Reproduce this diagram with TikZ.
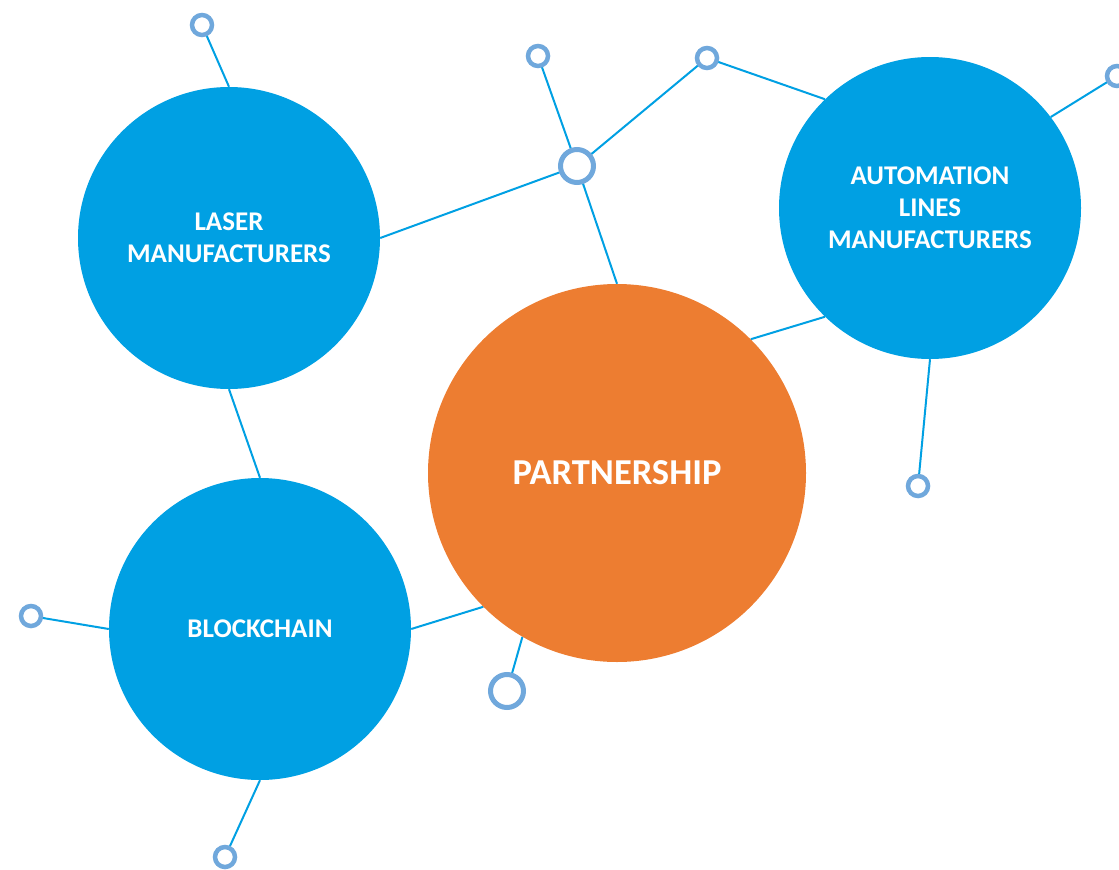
\documentclass[tikz,border=0pt]{standalone}
\usepackage{fontspec}
\setmainfont{Carlito}
\pgfdeclarelayer{background}
\pgfsetlayers{background,main}
\definecolor{cblue}{RGB}{0,160,227}
\definecolor{corange}{RGB}{237,125,49}
\definecolor{cring}{RGB}{112,168,220}
\tikzset{
  big/.style={circle, fill=cblue, inner sep=0pt, minimum size=302pt, text=white,
    font=\bfseries\fontsize{27}{32}\selectfont, align=center},
  partner/.style={circle, fill=corange, inner sep=0pt, minimum size=378pt, text=white,
    font=\bfseries\fontsize{36.5}{40}\selectfont},
  ring/.style={circle, draw=cring, line width=4.5pt, fill=white, inner sep=0pt, minimum size=20pt},
  bigring/.style={circle, draw=cring, line width=5pt, fill=white, inner sep=0pt, minimum size=33pt},
  link/.style={draw=cblue, line width=2pt}
}
\begin{document}
\begin{tikzpicture}[x=1pt,y=-1pt]
\useasboundingbox (0,0) rectangle (1119,870);
\node[big] (laser) at (229,238) {LASER\\MANUFACTURERS};
\node[big] (auto) at (930,208) {AUTOMATION\\LINES\\MANUFACTURERS};
\node[big] (block) at (260,629) {BLOCKCHAIN};
\node[partner] (part) at (617,473) {PARTNERSHIP};
\node[bigring] (hub) at (577,166) {};
\node[bigring] (rb) at (507,691) {};
\node[ring] (r1) at (202,25) {};
\node[ring] (r2) at (538,56) {};
\node[ring] (r3) at (707,58) {};
\node[ring] (r4) at (1117,76) {};
\node[ring] (r5) at (918,486) {};
\node[ring] (r6) at (31,616) {};
\node[ring] (r7) at (225,857) {};
\begin{pgfonlayer}{background}
\draw[link] (r1.center) -- (laser.north);
\draw[link] (laser.east) -- (hub.center);
\draw[link] (r2.center) -- (hub.center);
\draw[link] (r3.center) -- (hub.center);
\draw[link] (hub.center) -- (part.north);
\draw[link] (r3.center) -- (auto.134);
\draw[link] (auto.37) -- (r4.center);
\draw[link] (auto.270) -- (r5.center);
\draw[link] (part.45) -- (auto.226);
\draw[link] (laser.south) -- (block.north);
\draw[link] (block.east) -- (part.225);
\draw[link] (part.240) -- (rb.center);
\draw[link] (r6.center) -- (block.west);
\draw[link] (block.south) -- (r7.center);
\end{pgfonlayer}
\end{tikzpicture}
\end{document}
